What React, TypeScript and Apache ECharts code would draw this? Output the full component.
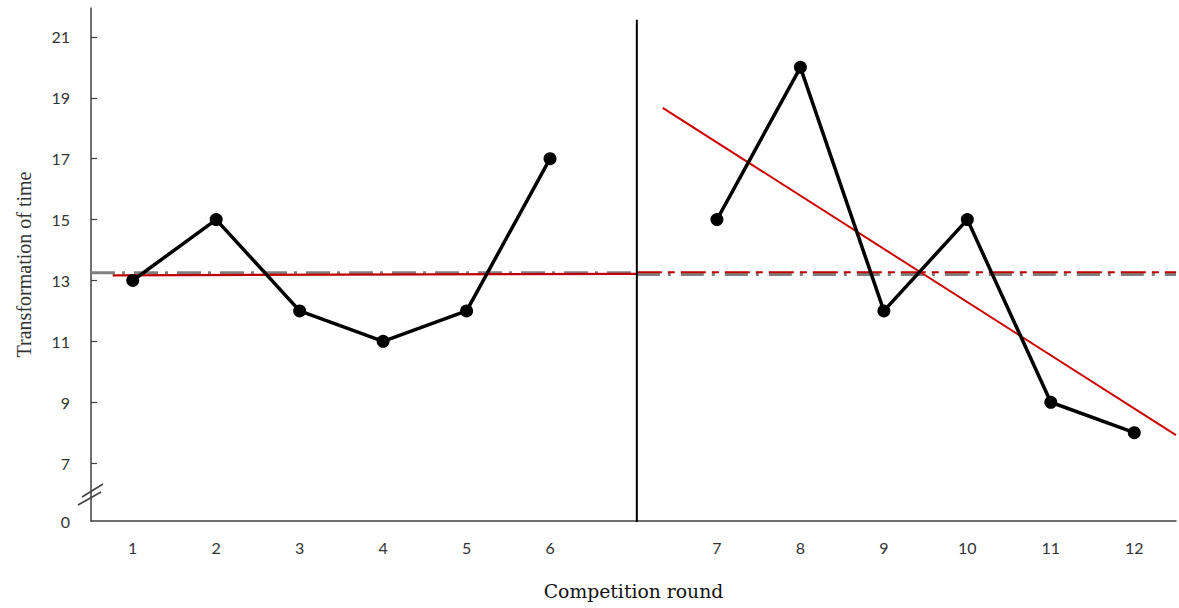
import React, { useEffect, useRef } from "react";
import * as echarts from "echarts";

const rounds = ["1", "2", "3", "4", "5", "6", "", "7", "8", "9", "10", "11", "12"];
const phaseA = [13, 15, 12, 11, 12, 17];
const phaseB = [15, 20, 12, 15, 9, 8];
const yTicks = [7, 9, 11, 13, 15, 17, 19, 21];
const yMin = 5.1;
const yMax = 21.95;
const phaseSplit = 6.04;
// reference lines: [xStart, yStart, xEnd, yEnd] in axis units
const grayMeanA = [-0.5, 13.25, phaseSplit, 13.25];
const redTrendA = [-0.24, 13.17, phaseSplit, 13.22];
const grayMeanB = [phaseSplit, 13.2, 12.5, 13.2];
const redMeanB = [phaseSplit, 13.27, 12.5, 13.27];
const redTrendB = [6.35, 18.67, 12.5, 7.92];
const splitLine = [phaseSplit, 5.03, phaseSplit, 21.56];

const seg = (s: number[]) => [[s[0], s[1]], [s[2], s[3]]];

export default function App() {
  const ref = useRef<HTMLDivElement>(null);
  useEffect(() => {
    document.body.style.margin = "0";
    const chart = echarts.init(ref.current!, null, { renderer: "svg" });
    const labelFont = "Lato, 'Open Sans', sans-serif";
    const refLine = (name: string, s: number[], color: string, width: number, type: any, z = 2) => ({
      name,
      type: "line",
      xAxisIndex: 1,
      data: seg(s),
      symbol: "none",
      silent: true,
      z,
      lineStyle: { color, width, type },
    });
    chart.setOption({
      animation: false,
      grid: { left: 91, right: 3, top: 8, bottom: 87, containLabel: false, outerBoundsMode: "none" },
      xAxis: [
        {
          type: "category",
          data: rounds,
          boundaryGap: true,
          axisLine: { onZero: false, lineStyle: { color: "#404040", width: 1.5 } },
          axisTick: { show: false },
          axisLabel: { color: "#333", fontSize: 16, fontFamily: labelFont, margin: 18 },
          name: "Competition round",
          nameLocation: "middle",
          nameGap: 61,
          nameTextStyle: { color: "#111", fontSize: 18.8, fontFamily: "'DejaVu Serif', serif" },
        },
        { type: "value", min: -0.5, max: 12.5, show: false },
      ],
      yAxis: {
        type: "value",
        min: yMin,
        max: yMax,
        splitLine: { show: false },
        axisLine: { show: true, onZero: false, lineStyle: { color: "#404040", width: 1.5 } },
        axisTick: { show: true, inside: true, length: 6, customValues: yTicks, lineStyle: { color: "#404040", width: 1.2 } },
        axisLabel: {
          customValues: [yMin, ...yTicks],
          formatter: (v: number) => (v < 6 ? "0" : String(Math.round(v))),
          color: "#333",
          fontSize: 16,
          fontFamily: labelFont,
          margin: 21,
        },
        name: "Transformation of time",
        nameLocation: "middle",
        nameGap: 57,
        nameTextStyle: { color: "#333", fontSize: 20, fontFamily: "'Liberation Serif', serif" },
      },
      graphic: [
        { type: "line", shape: { x1: 82, y1: 497, x2: 103, y2: 484 }, style: { stroke: "#404040", lineWidth: 1.5 } },
        { type: "line", shape: { x1: 78, y1: 505, x2: 101, y2: 492 }, style: { stroke: "#404040", lineWidth: 1.5 } },
      ],
      series: [
        refLine("grayMeanA", grayMeanA, "#808080", 3, [24, 7, 3, 9], 1),
        refLine("grayMeanB", grayMeanB, "#808080", 3, [23, 8, 3, 10], 1),
        refLine("redTrendA", redTrendA, "#c00000", 2.2, "solid", 2),
        refLine("redMeanB", redMeanB, "#c00000", 2.2, [25, 6, 7, 6], 2),
        refLine("redTrendB", redTrendB, "#cc0000", 2, "solid", 2),
        refLine("split", splitLine, "#000", 2, "solid", 3),
        {
          name: "A",
          type: "line",
          data: [...phaseA, ...rounds.slice(phaseA.length).map(() => null)],
          symbol: "circle",
          symbolSize: 13,
          itemStyle: { color: "#000" },
          lineStyle: { color: "#000", width: 3.5 },
          z: 4,
        },
        {
          name: "B",
          type: "line",
          data: [...rounds.slice(0, rounds.length - phaseB.length).map(() => null), ...phaseB],
          symbol: "circle",
          symbolSize: 13,
          itemStyle: { color: "#000" },
          lineStyle: { color: "#000", width: 3.5 },
          z: 4,
        },
      ],
    });
    return () => chart.dispose();
  }, []);
  return <div ref={ref} style={{ width: 1179, height: 608 }} />;
}
